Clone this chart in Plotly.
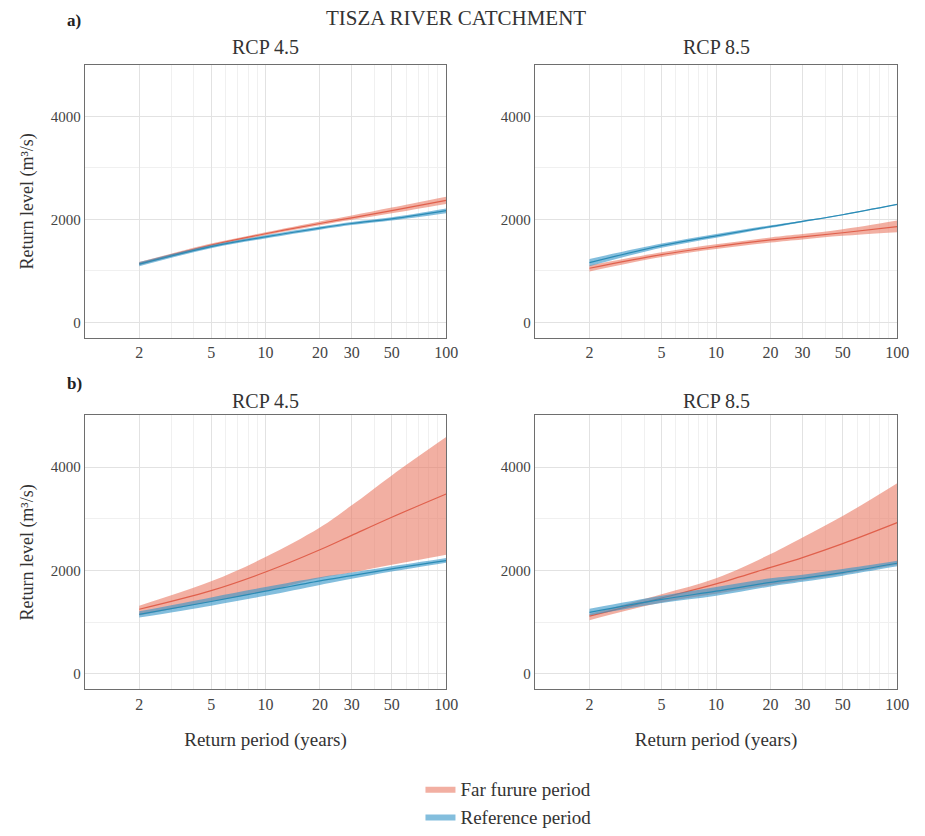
import plotly.graph_objects as go

# Return periods (years) at which return levels are plotted
periods = [2, 5, 10, 20, 30, 50, 100]

# a) RCP 4.5
a45_ref_lo = [1090, 1440, 1630, 1800, 1890, 1980, 2120]
a45_ref_mid = [1130, 1470, 1660, 1830, 1920, 2010, 2170]
a45_ref_hi = [1170, 1500, 1690, 1860, 1950, 2040, 2210]
a45_far_lo = [1110, 1470, 1690, 1885, 1990, 2120, 2300]
a45_far_mid = [1140, 1500, 1720, 1920, 2030, 2170, 2370]
a45_far_hi = [1170, 1530, 1750, 1960, 2075, 2230, 2440]

# a) RCP 8.5
a85_ref_lo = [1090, 1450, 1645, 1835, 1945, 2080, 2283]
a85_ref_mid = [1160, 1490, 1680, 1860, 1960, 2090, 2290]
a85_ref_hi = [1230, 1530, 1715, 1885, 1975, 2100, 2297]
a85_far_lo = [990, 1270, 1425, 1550, 1610, 1680, 1750]
a85_far_mid = [1050, 1315, 1470, 1600, 1660, 1740, 1860]
a85_far_hi = [1110, 1360, 1515, 1650, 1715, 1810, 1980]

# b) RCP 4.5
b45_ref_lo = [1090, 1320, 1510, 1720, 1840, 1980, 2150]
b45_ref_mid = [1150, 1400, 1600, 1800, 1900, 2030, 2190]
b45_ref_hi = [1210, 1480, 1680, 1870, 1960, 2080, 2240]
b45_far_lo = [1130, 1400, 1600, 1850, 1960, 2110, 2305]
b45_far_mid = [1250, 1610, 1970, 2400, 2680, 3030, 3480]
b45_far_hi = [1320, 1790, 2260, 2830, 3260, 3840, 4580]

# b) RCP 8.5
b85_ref_lo = [1130, 1370, 1510, 1690, 1780, 1900, 2080]
b85_ref_mid = [1190, 1440, 1600, 1770, 1850, 1960, 2140]
b85_ref_hi = [1260, 1510, 1680, 1850, 1920, 2030, 2190]
b85_far_lo = [1040, 1380, 1550, 1720, 1810, 1930, 2110]
b85_far_mid = [1117, 1467, 1740, 2060, 2250, 2520, 2927]
b85_far_hi = [1160, 1540, 1850, 2320, 2640, 3054, 3690]

x_major = [2, 5, 10, 20, 30, 50, 100]
x_minor = [1, 3, 4, 6, 7, 8, 9, 40, 60, 70, 80, 90]
y_major = [0, 2000, 4000]
y_minor = [1000, 3000]

panel_titles = ["RCP 4.5", "RCP 8.5", "RCP 4.5", "RCP 8.5"]
legend_names = ["Far furure period", "Reference period"]

FAR_FILL = "rgba(232,118,95,0.58)"
FAR_LINE = "#E0604C"
REF_FILL = "rgba(55,150,200,0.62)"
REF_LINE = "#2A8BB5"
FONT = "Liberation Serif, 'Times New Roman', 'DejaVu Serif', serif"

W, H = 925, 836
col_px = [(86, 452), (542, 909)]
row_px = [(66, 344), (423, 702)]
title_y = [48, 408]

panels = [
    (0, 0, a45_far_lo, a45_far_mid, a45_far_hi, a45_ref_lo, a45_ref_mid, a45_ref_hi),
    (0, 1, a85_far_lo, a85_far_mid, a85_far_hi, a85_ref_lo, a85_ref_mid, a85_ref_hi),
    (1, 0, b45_far_lo, b45_far_mid, b45_far_hi, b45_ref_lo, b45_ref_mid, b45_ref_hi),
    (1, 1, b85_far_lo, b85_far_mid, b85_far_hi, b85_ref_lo, b85_ref_mid, b85_ref_hi),
]

fig = go.Figure()
layout = {}
annotations = []

for i, (r, c, flo, fmid, fhi, rlo, rmid, rhi) in enumerate(panels):
    n = i + 1
    xa = "x" if n == 1 else f"x{n}"
    ya = "y" if n == 1 else f"y{n}"
    show_leg = (i == 0)
    for lo, mid, hi, fill, line, name in [
        (flo, fmid, fhi, FAR_FILL, FAR_LINE, legend_names[0]),
        (rlo, rmid, rhi, REF_FILL, REF_LINE, legend_names[1]),
    ]:
        fig.add_trace(go.Scatter(x=periods, y=lo, xaxis=xa, yaxis=ya, mode="lines",
                                 line=dict(width=0, shape="spline"), showlegend=False,
                                 hoverinfo="skip"))
        fig.add_trace(go.Scatter(x=periods, y=hi, xaxis=xa, yaxis=ya, mode="lines",
                                 line=dict(width=0, shape="spline", color=fill),
                                 fill="tonexty", fillcolor=fill, name=name,
                                 legendgroup=name, showlegend=show_leg))
        fig.add_trace(go.Scatter(x=periods, y=mid, xaxis=xa, yaxis=ya, mode="lines",
                                 line=dict(width=1.2, color=line, shape="spline"),
                                 showlegend=False, legendgroup=name))

    x0, x1 = col_px[c]
    y0, y1 = row_px[r]
    xkey = "xaxis" if n == 1 else f"xaxis{n}"
    ykey = "yaxis" if n == 1 else f"yaxis{n}"
    layout[xkey] = dict(
        type="log", range=[0, 2], domain=[x0 / W, x1 / W], anchor=ya,
        tickmode="array", tickvals=x_major, ticktext=[str(v) for v in x_major],
        showgrid=True, gridcolor="#E2E2E2", gridwidth=1,
        minor=dict(tickmode="array", tickvals=x_minor, showgrid=True,
                   gridcolor="#F0F0F0", gridwidth=1),
        showline=True, linecolor="#6E6E6E", linewidth=1.2, mirror=True,
        ticks="", zeroline=False,
        tickfont=dict(family=FONT, size=16, color="#444"),
        title=dict(text="Return period (years)" if r == 1 else "",
                   font=dict(family=FONT, size=19, color="#333"), standoff=20),
    )
    layout[ykey] = dict(
        range=[-300, 5000], domain=[1 - y1 / H, 1 - y0 / H], anchor=xa,
        tickmode="array", tickvals=y_major, ticktext=[str(v) for v in y_major],
        showgrid=True, gridcolor="#E2E2E2", gridwidth=1,
        minor=dict(tickmode="array", tickvals=y_minor, showgrid=True,
                   gridcolor="#F0F0F0", gridwidth=1),
        showline=True, linecolor="#6E6E6E", linewidth=1.2, mirror=True,
        ticks="", zeroline=False,
        tickfont=dict(family=FONT, size=15, color="#444"),
        title=dict(text="Return level (m³/s)" if c == 0 else "",
                   font=dict(family=FONT, size=18, color="#333"), standoff=12),
    )
    annotations.append(dict(
        text=panel_titles[i], x=(x0 + x1) / 2 / W, y=1 - title_y[r] / H,
        xref="paper", yref="paper", xanchor="center", yanchor="middle",
        showarrow=False, font=dict(family=FONT, size=20, color="#333")))

annotations += [
    dict(text="TISZA RIVER CATCHMENT", x=462 / W, y=1 - 18 / H, xref="paper", yref="paper",
         xanchor="center", yanchor="middle", showarrow=False,
         font=dict(family=FONT, size=21, color="#333")),
    dict(text="<b>a)</b>", x=66 / W, y=1 - 21 / H, xref="paper", yref="paper",
         xanchor="left", yanchor="middle", showarrow=False,
         font=dict(family=FONT, size=17, color="#222")),
    dict(text="<b>b)</b>", x=66 / W, y=1 - 390 / H, xref="paper", yref="paper",
         xanchor="left", yanchor="middle", showarrow=False,
         font=dict(family=FONT, size=17, color="#222")),
]

fig.update_layout(
    width=W, height=H,
    margin=dict(l=0, r=0, t=0, b=0),
    paper_bgcolor="white", plot_bgcolor="white",
    font=dict(family=FONT),
    annotations=annotations,
    showlegend=True,
    legend=dict(x=426 / W, y=1 - 784 / H, xanchor="left", yanchor="top",
                font=dict(family=FONT, size=19, color="#333"),
                bgcolor="rgba(0,0,0,0)", tracegroupgap=0, itemwidth=30),
    **layout,
)

fig.write_html("out.html")
